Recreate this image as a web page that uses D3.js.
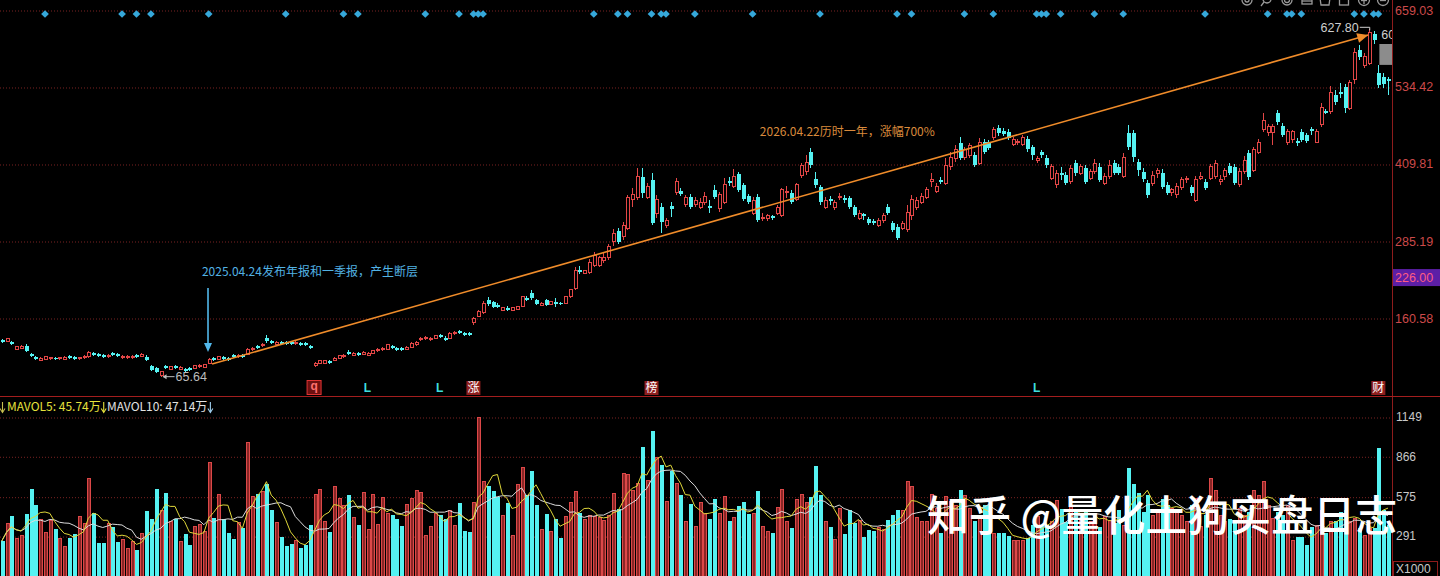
<!DOCTYPE html>
<html><head><meta charset="utf-8">
<script src="https://cdn.jsdelivr.net/npm/d3@7"></script>
<style>
html,body{margin:0;padding:0;background:#000;overflow:hidden;}
svg{display:block;}
</style></head><body>
<svg id="c" width="1440" height="576"></svg>
<script>
// ---------- DATA ----------
// candles: [open, close, high, low]
const candles = [
[125,122,127,120],[123,127,128,122],[122,118.5,123,117],[110,114,115,109],[112,115,117,110],
[115,107,118,105.5],[102,99,104,97.5],[97.5,94,99,92.6],[92.6,95.8,97.5,91],[94,97.5,99,92.6],
[94.5,96.5,98,93],[96.5,94.5,98,93],[94.5,96.5,98,93],[94,97,98.5,93],[98.5,96,100,95],
[97,94.5,98.5,93],[94.5,96.5,98,93],[96,99,100,95],[97.5,104,107,96],[104,101,105.5,99],
[102,99.5,104,98],[100.5,98,102,96.5],[98,100.5,102,96.5],[104,101,105.5,99],[102,99.5,104,98],
[96,99,100,95],[96.5,98.5,100,95],[96.5,99,100,95],[100.5,98,102,96.5],[99,102,103.5,98],
[98,93,101,91],[83,76.4,85,75],[79.6,73.2,81,71.5],[68.3,73.2,74.8,65.64],[82.9,79.6,84.5,78],
[78,81.3,83,76.4],[83,80,84.5,78.5],[78,81,83,76.4],[78,75,79.6,73.2],[79.6,76.4,81.3,74.8],
[79.6,83,84.5,78],[81.3,84.5,86,79.6],[81,85,86.1,79.6],[87.7,94.2,96,86.1],[95.8,92.6,97.5,91],
[94.2,97.5,99.1,92.6],[97.5,94.2,99.1,92.6],[95.8,92.6,97.5,91],[100.7,97.5,102.3,96],[97.5,100.7,102.3,96],
[100.7,97.5,102.3,96],[102.3,110.4,112,100.7],[108.8,112,113.6,107.2],[115.3,112,117,110.4],[115.3,118.5,120.1,113.6],
[128.2,123.4,133.1,120.1],[123.4,120.1,125,118.5],[118.5,121.7,123.4,116.9],[121.7,118.5,123.4,116.9],[121,119,123,117],
[121,119,123,117],[119,121.7,123.4,117],[120,117,121.7,115.3],[120,117,121.7,115.3],[115.3,112,117,110.4],
[82.9,87.7,89.4,81.3],[87.7,91,92.6,86.1],[87.7,91,92.6,86.1],[91,87.7,92.6,86.1],[92.6,95.8,97.5,91],
[95.8,99.1,100.7,94.2],[97.5,100.7,102.3,96],[105.5,102.3,108.8,100.7],[100.7,103.9,105.5,99.1],[103.9,100.7,105.5,99.1],
[102.3,105.5,107.2,100.7],[100.7,103.9,105.5,99.1],[103.9,107.2,108.8,102.3],[107.2,110.4,112,105.5],[108.8,112,113.6,107.2],
[110.4,116.9,118.5,108.8],[115.3,112,116.9,110.4],[112,108.8,113.6,107.2],[112,108.8,113.6,107.2],[110.4,113.6,115.3,108.8],
[113.6,120.1,121.7,112],[116.9,121.7,123.4,115.3],[125,128.2,129.8,123.4],[126.6,129.8,131.5,125],[125,128.2,129.8,123.4],
[128.2,131.5,133.1,126.6],[133.1,129.8,134.7,128.2],[128.2,125,131.5,123.4],[128.2,136.3,137.9,126.6],[134.7,137.9,139.6,133.1],
[139.6,136.3,141.2,134.7],[136.3,133.1,137.9,131.5],[136,133,137.5,132],[152.5,159,162.2,149.2],[163.8,171.9,173.5,162.2],
[168.7,184.8,188.1,167],[189.7,183.2,194.6,180],[186.5,178.4,188.1,176.8],[181.6,178.4,184.8,176.8],[173.5,176.8,178.4,171.9],
[176.8,173.5,180,171.9],[173.5,176.8,178.4,171.9],[175.1,178.4,180,173.5],[180,194.6,196.2,178.4],[192.9,189.7,196.2,188.1],
[201,192.9,205.9,189.7],[189.7,183.2,191.3,181.6],[181.6,184.8,186.5,180],[189.7,181.6,191.3,180],[183.2,186.5,188.1,181.6],
[186.5,183.2,192.9,178.4],[185,183.5,186.5,182],[184.8,194.6,196.2,183.2],[194.6,205.9,207.5,192.9],[209,238,243,206],
[238,235,245,232],[233,237,238,232],[235,251,256,232],[246,262,267,243],[246,258,261,243],
[254,258,266,250],[258,275.5,280,254],[284,298,305,277],[301,284,306,280],[292,309.5,316,287],
[305,356,360,303],[353,360,371,340],[355,389,403,351.5],[389,363,403,355],[356,373,379,353],
[384,314,395,311],[329,353,360,322],[340,316,347,298],[309.5,317.6,322,306],[342,337,348,324],
[363,382,387,360],[366,361,371,358],[345,355,360,340],[356,340,361,337],[343.5,351.5,356,340],
[340,348,355,337],[347,358,364.5,343.5],[342,338.6,351.5,330.5],[368,356,376,353],[337,360,364.5,332],
[348,377,387,345],[382,379,389,374],[374,390,402,371],[394,368,397,364.5],[376,353,379,350],
[358,348,361,345],[330.5,351.5,356,327],[356,319,361,316],[321,324,330.5,317.6],[321,326,329,317.6],
[325,322,327,319],[330.5,340,343.5,327],[327,368,371,324],[363,366,374,355],[363,348,368,345],
[353,376,379,350],[392,407,411,387],[397,413,424,392],[429,408,436,403],[385.5,376,397,371],
[373,348,376,343.5],[340,351.5,356,337],[353,350,358,343.5],[338.6,348,351.5,335],[355,358,363,351.5],
[355,351.5,360,347],[355,340,358,337],[340,327,343.5,324],[322,330.5,335,319],[329,326,330.5,319],
[321,314,324,311],[318,314,321,311],[311,319,322,308],[317.6,326,330.5,314],[340,330.5,345,327],
[314,303,317.6,300],[308,290,313,287],[306,314,317.6,303],[303,332,343.5,300],[326,353,360,319],
[340,350,356,335],[348,358,363,345],[356,368,373,353],[382,385.5,395,373],[366,374,379,363],
[384,381,389,377],[379,408,419.5,376],[405,421,429,400],[418,434,440.5,413],[444,419.5,453.5,416],
[421,432.5,437,416],[424,439,444,419.5],[424,408,429,405],[411,445,452,408],[445,429,450,426],
[445,436,449,432.5],[453.5,465,470,449],[468,460,473,455],[463,458,468,455],[462,452,466,449],
[442,450,453.5,439],[444,447,450,440.5],[442,452,457,439],[450,434,455,429],[437,424,440.5,416],
[415,419.5,423,411],[429,424,432.5,419.5],[419.5,408,424,403],[387,405,410,384],[376,395,400,371],
[395,392,405,384],[392,379,397,376],[381,403,408,377],[411,395,416,390],[395,405,410,392],
[403,381,408,377],[387,397,402,384],[397,411,418,394],[405,384,411,381],[379,390,395,376],
[389,407,416,385.5],[411,395,416,392],[405,395,410,392],[390,421,428,387],[460,437,473,432.5],
[460,421,465,413],[413,400,418,390],[397,385.5,403,381],[379,360,384,355],[379,392,398.5,374],
[395,398.5,403,387],[395,373,402,369],[376,363,381,360],[363,368,371,358],[360,374,379,355],
[371,384,389,368],[384,387,390,379],[373,363,376,358],[351.5,384,390,348],[387,390,397,384],
[381,371,385.5,368],[387,405,410,384],[389,411,416,385.5],[382,385.5,392,376],[389,400,403,384],
[407,395,411,392],[405,379,410,376],[376,397,403,373],[397,416,423,394],[428,389,432.5,384],
[400,432.5,437,397],[429,445,450,426],[465,481,492.5,462],[460,470,474.5,455],[460,470,474.5,440.5],
[492.5,478,497,473],[471,457,476,453.5],[445,462,466,440.5],[449,462,465,444],[447,444,452,439],
[462,449,466,445],[457,447,460,444],[466,463,470,457],[445,462,466,444],[473,502,508.5,470],
[496,492.5,499,491],[494,526,536,491],[521.5,510,530,505],[526,523,541,517],[534,500,539,492.5],
[500,541,546,497],[546,591,597.5,539],[594,583,602,578],[570,583,589,565],[573,623,627.8,570],
[620,610.5,625,604],[557,538,570,533],[551,539,557,533],[547.5,544,551,521.5]
];
// volume (x1000)
const volumes = [
255,382,437,274,293,453,633,513,410,315, 403,341,274,219,274,303,434,382,704,460,
240,240,382,353,245,269,202,250,190,310, 472,413,633,477,604,398,413,255,303,226,
358,374,322,824,425,590,417,310,267,389, 350,968,573,597,609,669,482,389,286,219,
233,262,202,226,374,590,630,398,322,649, 561,513,590,427,370,604,341,590,377,568,
453,441,413,362,520,561,618,602,298,362, 453,446,413,477,370,532,327,317,532,1147,
685,652,616,573,437,532,293,661,788,585, 757,513,341,453,327,417,274,429,532,614,
460,413,441,429,422,405,441,597,489,740, 733,621,673,936,692,1047,860,805,542,757,
669,590,393,520,358,532,453,417,561,453, 578,398,427,508,537,453,453,618,362,322,
315,494,626,398,346,556,590,532,573,793, 590,398,358,267,489,303,477,382,405,286,
334,327,350,338,405,446,482,477,685,645, 422,398,393,590,489,310,573,537,513,621,
585,489,398,441,513,513,310,310,310,291, 262,262,262,279,370,429,370,370,393,549,
489,393,513,477,405,489,393,429,358,429, 405,382,477,370,783,669,604,465,585,441,
477,561,513,489,477,441,393,513,561,358, 441,709,621,441,393,417,393,489,441,465,
621,585,681,513,417,465,441,513,262,286, 286,226,358,370,477,310,393,398,465,477,
393,417,346,298,346,346,925,477,370
];
const priceTicks = [659.03, 534.42, 409.81, 285.19, 160.58];
const markPrice = 226.00;
const volTicks = [1149, 866, 575, 291];
const diamondIdx = [9,25,28,31,43,59,71,74,88,95,98,99,100,123,128,130,135,137,138,144,156,170,186,189,200,206,215,216,217,220,227,233,250,263,267,268,270,281,283,285,286];
const signals = [
  {i:65, t:"q", kind:"q"}, {i:76, t:"L", kind:"L"}, {i:91, t:"L", kind:"L"},
  {i:98, t:"涨", kind:"box"}, {i:135, t:"榜", kind:"box"}, {i:215, t:"L", kind:"L"}, {i:286, t:"财", kind:"box"}
];
const trendLine = [{i:43.7, p:86.1}, {i:283.9, p:618.6}];
const noteArrow = {i:42.86, from:209.0, to:105.5};
const note1 = {i:41.6, p:235.0, text:"2025.04.24发布年报和一季报，产生断层"};
const note2 = {i:157.5, p:461.6, text:"2026.04.22历时一年，涨幅700%"};
const lowMark = {i:33, p:65.64};
const highMark = {i:284, p:627.80};
const gapBox = {i:286, top:604.0, bottom:570.2};
const maHeader = [
  {label:"MAVOL5: ", value:"45.74万", color:"#e6e23c", arrow:"#e6e23c", x:7},
  {label:"MAVOL10: ", value:"47.14万", color:"#e2e2e2", arrow:"#9fd0f0", x:107}
];
const watermark = "知乎 @量化土狗实盘日志";

// ---------- CHART ----------
const W = 1440, H = 576, AX = 1392;
const RED = "#e24646", CYAN = "#55f2f2", GRID = "#7a2222";
const svg = d3.select("#c");
svg.append("rect").attr("width", W).attr("height", H).attr("fill", "#000");
const N = candles.length;
const x = d3.scaleLinear().domain([0, N - 1]).range([1.7, 1388]);
const y = d3.scaleLinear().domain([160.58, 659.03]).range([318, 10]);
const yv = d3.scaleLinear().domain([0, 1149]).range([576.5, 417]);
const FONT = "'Noto Sans CJK SC','Noto Sans',sans-serif";
const NUMF = "'Liberation Sans',Arial,sans-serif";

// grid lines (price)
const gridP = svg.append("g").attr("transform", "translate(0,0.5)")
  .call(d3.axisRight(y).tickValues(priceTicks).tickSize(AX).tickFormat(""));
gridP.select(".domain").remove();
gridP.selectAll("line").attr("stroke", GRID).attr("stroke-dasharray", "1,2");
// grid lines (volume)
const gridV = svg.append("g").attr("transform", "translate(0,0.5)")
  .call(d3.axisRight(yv).tickValues(volTicks).tickSize(AX).tickFormat(""));
gridV.select(".domain").remove();
gridV.selectAll("line").attr("stroke", GRID).attr("stroke-dasharray", "1,2");

// frame lines
svg.append("line").attr("x1", AX + 0.5).attr("x2", AX + 0.5).attr("y1", 0).attr("y2", H).attr("stroke", "#8e1c1c");
svg.append("line").attr("x1", 0).attr("x2", W).attr("y1", 396.5).attr("y2", 396.5).attr("stroke", "#a31e1e");

// price axis labels
const ya = svg.append("g").attr("transform", `translate(${AX + 1},0)`)
  .call(d3.axisRight(y).tickValues(priceTicks).tickSize(0).tickPadding(2).tickFormat(d => d.toFixed(2)));
ya.select(".domain").remove();
ya.selectAll("text").attr("fill", "#cc4a4a").style("font-size", "12.5px").style("font-family", NUMF);
// marked price box
svg.append("rect").attr("x", AX + 1).attr("y", y(markPrice) - 8.5).attr("width", W - AX - 1).attr("height", 17).attr("fill", "#5c1fa6");
svg.append("text").attr("x", AX + 3).attr("y", y(markPrice)).attr("dy", "0.35em").attr("fill", "#ff5c82")
  .style("font-size", "12.5px").style("font-family", NUMF).text(markPrice.toFixed(2));

// volume axis labels
const yva = svg.append("g").attr("transform", `translate(${AX + 1},0)`)
  .call(d3.axisRight(yv).tickValues(volTicks).tickSize(0).tickPadding(3).tickFormat(d3.format("d")));
yva.select(".domain").remove();
yva.selectAll("text").attr("fill", "#c8c8c8").style("font-size", "12px").style("font-family", NUMF);
svg.append("rect").attr("x", AX + 1.5).attr("y", 561.5).attr("width", 44).attr("height", 15).attr("fill", "none").attr("stroke", "#8e1c1c");
svg.append("text").attr("x", AX + 4).attr("y", 569).attr("dy", "0.35em").attr("fill", "#c8c8c8")
  .style("font-size", "12px").style("font-family", NUMF).text("X1000");

// diamonds
svg.append("g").selectAll("path").data(diamondIdx).join("path")
  .attr("d", d3.symbol(d3.symbolSquare, 30))
  .attr("transform", d => `translate(${x(d)},14) rotate(45)`)
  .attr("fill", "#36a8da");

// candles
const cg = svg.append("g").attr("shape-rendering", "crispEdges");
candles.forEach((d, i) => {
  const [o, c, h, l] = d;
  const up = c >= o;
  const col = up ? RED : CYAN;
  const cx = Math.round(x(i)) + 0.5;
  const top = y(Math.max(o, c)), bot = y(Math.min(o, c));
  cg.append("line").attr("x1", cx).attr("x2", cx).attr("y1", y(h)).attr("y2", y(l)).attr("stroke", col);
  if (up) {
    cg.append("rect").attr("x", cx - 1.5).attr("y", top).attr("width", 3).attr("height", Math.max(1, bot - top))
      .attr("fill", "#000").attr("stroke", col);
  } else {
    cg.append("rect").attr("x", cx - 2).attr("y", top).attr("width", 4).attr("height", Math.max(1, bot - top))
      .attr("fill", col);
  }
});

// volume bars
const vg = svg.append("g").attr("shape-rendering", "crispEdges");
volumes.forEach((v, i) => {
  const [o, c] = candles[i];
  const up = c >= o;
  const cx = Math.round(x(i)) + 0.5;
  if (up) {
    vg.append("rect").attr("x", cx - 1.5).attr("y", yv(v)).attr("width", 3).attr("height", yv(0) - yv(v))
      .attr("fill", "#8a2626").attr("stroke", "#dc4848");
  } else {
    vg.append("rect").attr("x", cx - 2).attr("y", yv(v)).attr("width", 4).attr("height", yv(0) - yv(v))
      .attr("fill", CYAN);
  }
});

// MAVOL lines
function ma(arr, n) { return arr.map((_, i) => d3.mean(arr.slice(Math.max(0, i - n + 1), i + 1))); }
const ma5 = ma(volumes, 5), ma10 = ma(volumes, 10);
const vline = d3.line().x((d, i) => x(i)).y(d => yv(d));
svg.append("path").attr("d", vline(ma10)).attr("fill", "none").attr("stroke", "#dcdcdc").attr("stroke-width", 1);
svg.append("path").attr("d", vline(ma5)).attr("fill", "none").attr("stroke", "#e0d83a").attr("stroke-width", 1);

// MAVOL header with small drawn arrows
function downArrow(ax, col) {
  svg.append("line").attr("x1", ax).attr("x2", ax).attr("y1", 402).attr("y2", 412).attr("stroke", col).attr("stroke-width", 1.1);
  svg.append("path").attr("d", `M${ax - 2.5},${408.5} L${ax},${412.5} L${ax + 2.5},${408.5}`).attr("fill", "none").attr("stroke", col).attr("stroke-width", 1.1);
}
downArrow(2.5, "#c8c050");
maHeader.forEach(m => {
  const t = svg.append("text").attr("x", m.x).attr("y", 411).attr("fill", m.color)
    .style("font-size", "12px").style("font-family", FONT).text(m.label + m.value);
  const w = t.node().getComputedTextLength();
  downArrow(m.x + w + 3, m.arrow);
});

// trend line with arrowhead
svg.append("line").attr("x1", x(trendLine[0].i)).attr("y1", y(trendLine[0].p))
  .attr("x2", x(trendLine[1].i)).attr("y2", y(trendLine[1].p))
  .attr("stroke", "#f08c2a").attr("stroke-width", 1.6);
{
  const x2 = x(trendLine[1].i), y2 = y(trendLine[1].p);
  const ang = Math.atan2(y2 - y(trendLine[0].p), x2 - x(trendLine[0].i));
  const L = 11, Wd = 5;
  const bx = x2 - L * Math.cos(ang), by = y2 - L * Math.sin(ang);
  const px = -Math.sin(ang) * Wd, py = Math.cos(ang) * Wd;
  svg.append("path").attr("d", `M${x2},${y2} L${bx + px},${by + py} L${bx - px},${by - py} Z`).attr("fill", "#f08c2a");
}

// blue annotation arrow
{
  const ax = x(noteArrow.i), y1 = y(noteArrow.from), y2 = y(noteArrow.to);
  svg.append("line").attr("x1", ax).attr("x2", ax).attr("y1", y1).attr("y2", y2 - 6).attr("stroke", "#52b8ea").attr("stroke-width", 1.6);
  svg.append("path").attr("d", `M${ax},${y2} L${ax - 4},${y2 - 9} L${ax + 4},${y2 - 9} Z`).attr("fill", "#52b8ea");
}
svg.append("text").attr("x", x(note1.i)).attr("y", y(note1.p)).attr("dy", "0.35em").attr("fill", "#52b2e4")
  .style("font-size", "12px").style("font-family", FONT).text(note1.text);
svg.append("text").attr("x", x(note2.i)).attr("y", y(note2.p)).attr("dy", "0.35em").attr("fill", "#d98a3c")
  .style("font-size", "12px").style("font-family", FONT).text(note2.text);

// low mark
{
  const lx = x(lowMark.i) + 2, ly = y(lowMark.p);
  svg.append("line").attr("x1", lx + 1).attr("x2", lx + 12).attr("y1", ly).attr("y2", ly).attr("stroke", "#bdbdbd");
  svg.append("path").attr("d", `M${lx},${ly} L${lx + 4},${ly - 2.5} L${lx + 4},${ly + 2.5} Z`).attr("fill", "#bdbdbd");
  svg.append("text").attr("x", lx + 13).attr("y", ly).attr("dy", "0.35em").attr("fill", "#bdbdbd")
    .style("font-size", "12.5px").style("font-family", NUMF).text(lowMark.p.toFixed(2));
}
// high mark
{
  const hx = x(highMark.i), hy = y(highMark.p);
  svg.append("line").attr("x1", hx - 9).attr("x2", hx + 1).attr("y1", hy - 2).attr("y2", hy - 2).attr("stroke", "#cfcfcf");
  svg.append("line").attr("x1", hx + 1).attr("x2", hx + 1).attr("y1", hy - 2).attr("y2", hy + 1).attr("stroke", "#cfcfcf");
  svg.append("text").attr("x", hx - 10).attr("y", hy - 2).attr("dy", "0.35em").attr("text-anchor", "end").attr("fill", "#cfcfcf")
    .style("font-size", "12.5px").style("font-family", NUMF).text(highMark.p.toFixed(2));
}
// gap box
svg.append("rect").attr("x", x(gapBox.i) + 1).attr("y", y(gapBox.top)).attr("width", AX - x(gapBox.i) - 1)
  .attr("height", y(gapBox.bottom) - y(gapBox.top)).attr("fill", "#8c8c8c");
const defs = svg.append("defs");
defs.append("clipPath").attr("id", "plotClip").append("rect").attr("x", 0).attr("y", 0).attr("width", AX).attr("height", 396);
svg.append("text").attr("clip-path", "url(#plotClip)").attr("x", x(gapBox.i) + 3).attr("y", y(gapBox.top) - 9)
  .attr("dy", "0.35em").attr("fill", "#d0d0d0").style("font-size", "12.5px").style("font-family", NUMF).text(gapBox.top.toFixed(2));

// signal markers
signals.forEach(s => {
  const sx = x(s.i);
  if (s.kind === "L") {
    svg.append("text").attr("x", sx).attr("y", 388).attr("dy", "0.35em").attr("text-anchor", "middle").attr("fill", "#3ddede")
      .style("font-size", "12px").style("font-family", NUMF).style("font-weight", "bold").text(s.t);
  } else if (s.kind === "q") {
    svg.append("rect").attr("x", sx - 7.5).attr("y", 380.5).attr("width", 14).attr("height", 14).attr("fill", "#6e1010").attr("stroke", "#e03434");
    svg.append("text").attr("x", sx - 0.5).attr("y", 386).attr("dy", "0.35em").attr("text-anchor", "middle").attr("fill", "#ff7070")
      .style("font-size", "12px").style("font-family", NUMF).style("font-weight", "bold").text(s.t);
  } else {
    svg.append("rect").attr("x", sx - 7).attr("y", 381).attr("width", 14).attr("height", 14).attr("fill", "#8e1e1e");
    svg.append("text").attr("x", sx).attr("y", 388).attr("dy", "0.35em").attr("text-anchor", "middle").attr("fill", "#ffffff")
      .style("font-size", "12px").style("font-family", FONT).text(s.t);
  }
});

// toolbar icons (top right, partially cut)
const tg = svg.append("g").attr("stroke", "#9a9a9a").attr("fill", "none").attr("stroke-width", 1.3);
[1247, 1266, 1287, 1307, 1325, 1344, 1364, 1383].forEach((cx, k) => {
  if (k === 0) { tg.append("circle").attr("cx", cx).attr("cy", 0).attr("r", 5); tg.append("circle").attr("cx", cx).attr("cy", 0).attr("r", 2); }
  else if (k === 1) { tg.append("circle").attr("cx", cx + 1).attr("cy", -1).attr("r", 4); tg.append("line").attr("x1", cx - 2).attr("y1", 2).attr("x2", cx - 5).attr("y2", 6); }
  else if (k === 2) { tg.append("circle").attr("cx", cx).attr("cy", 0).attr("r", 5); tg.append("circle").attr("cx", cx).attr("cy", 0).attr("r", 2.5); }
  else if (k === 3) { tg.append("rect").attr("x", cx - 5).attr("y", -4).attr("width", 10).attr("height", 8); tg.append("line").attr("x1", cx - 5).attr("x2", cx + 5).attr("y1", 1).attr("y2", 1); }
  else if (k === 4) { tg.append("path").attr("d", `M${cx - 5},-2 L${cx - 4},5 L${cx + 4},5 L${cx + 5},-2`); }
  else if (k === 5) { tg.append("rect").attr("x", cx - 4.5).attr("y", -4).attr("width", 9).attr("height", 9); }
  else { tg.append("circle").attr("cx", cx).attr("cy", 0).attr("r", 5.5);
         tg.append("line").attr("x1", cx - 3).attr("x2", cx + 3).attr("y1", 0.5).attr("y2", 0.5);
         if (k === 6) tg.append("line").attr("x1", cx).attr("x2", cx).attr("y1", -3).attr("y2", 4); }
});

// watermark
svg.append("text").attr("x", 927).attr("y", 531).attr("fill", "#ffffff")
  .style("font-size", "42px").style("font-family", FONT).style("font-weight", "500").text(watermark);
</script>
</body></html>
